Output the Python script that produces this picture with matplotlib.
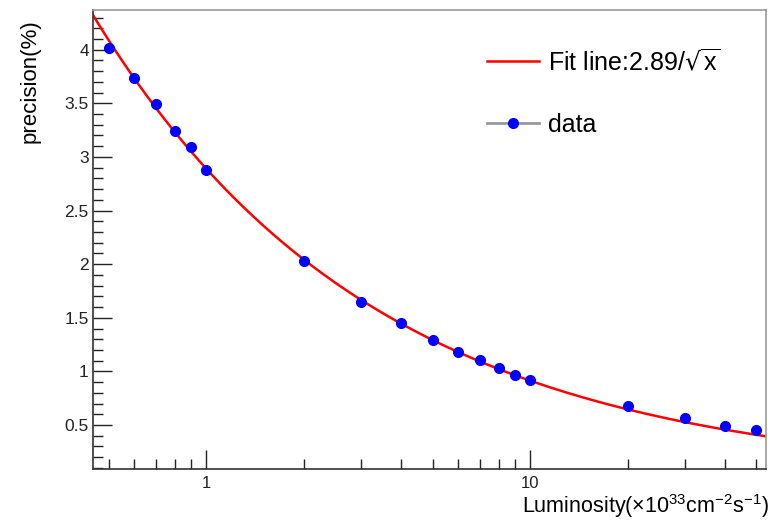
import numpy as np
import matplotlib
matplotlib.use("Agg")
import matplotlib.pyplot as plt
from matplotlib.ticker import LogLocator, MultipleLocator, FixedLocator, FixedFormatter, FormatStrFormatter
from matplotlib.lines import Line2D

plt.rcParams['font.family'] = ['Liberation Sans', 'DejaVu Sans']
plt.rcParams['mathtext.default'] = 'regular'

# data
lumi = [0.5, 0.6, 0.7, 0.8, 0.9, 1, 2, 3, 4, 5, 6, 7, 8, 9, 10, 20, 30, 40, 50]
precision = [4.02, 3.74, 3.49, 3.24, 3.09, 2.88, 2.03, 1.65, 1.45, 1.29,
             1.18, 1.11, 1.03, 0.97, 0.92, 0.68, 0.57, 0.49, 0.45]
fit_coef = 2.89
x_range = (0.447, 53.5)
y_range = (0.09, 4.37)

W, H = 771, 525
fig = plt.figure(figsize=(W / 100, H / 100), dpi=100)
ax = fig.add_axes([93 / W, (H - 469) / H, (766 - 93) / W, (469 - 10) / H])

xf = np.logspace(np.log10(x_range[0]), np.log10(x_range[1]), 300)
ax.plot(xf, fit_coef / np.sqrt(xf), color='red', lw=1.8, zorder=2)
ax.plot(lumi, precision, 'o', color='blue', ms=7, zorder=3)

ax.set_xscale('log')
ax.set_xlim(*x_range)
ax.set_ylim(*y_range)

ax.xaxis.set_major_locator(FixedLocator([1, 10]))
ax.xaxis.set_major_formatter(FixedFormatter(['1', '10']))
ax.xaxis.set_minor_locator(LogLocator(base=10, subs=np.arange(2, 10)))
ax.xaxis.set_minor_formatter(FixedFormatter([]))
ax.yaxis.set_major_locator(MultipleLocator(0.5))
ax.yaxis.set_minor_locator(MultipleLocator(0.1))
ax.yaxis.set_major_formatter(FormatStrFormatter('%g'))

ax.tick_params(which='both', direction='in', top=False, right=False, labelsize=12.5, colors='#222222')
ax.tick_params(which='major', length=14, width=1.0)
ax.tick_params(which='minor', length=7, width=1.0)
ax.tick_params(axis='y', which='major', pad=3)
ax.tick_params(axis='x', which='major', pad=5, labelsize=12)

for s in ['left', 'bottom']:
    ax.spines[s].set_color('#333333')
    ax.spines[s].set_linewidth(1.2)
for s in ['top', 'right']:
    ax.spines[s].set_color('#999999')
    ax.spines[s].set_linewidth(1.2)

fig.text(769 / W, 1 - 513 / H, r'Luminosity($\times$10$^{33}$cm$^{-2}$s$^{-1}$)',
         ha='right', va='baseline', fontsize=15.5)
fig.text(30 / W, 1 - 19 / H, 'precision(%)', rotation=90, ha='center', va='top', fontsize=16)

handles = [Line2D([], [], color='red', lw=1.8),
           Line2D([], [], color='#999999', lw=2, marker='o', mfc='blue', mec='blue', ms=7)]
ax.legend(handles, [r'Fit line:2.89/$\sqrt{x}$', 'data'], loc='upper left',
          bbox_to_anchor=(464 / W, 1 - 26 / H), bbox_transform=fig.transFigure,
          frameon=False, fontsize=18, handlelength=2.1, labelspacing=1.5, handletextpad=0.35)

fig.savefig('out.png', dpi=100)
